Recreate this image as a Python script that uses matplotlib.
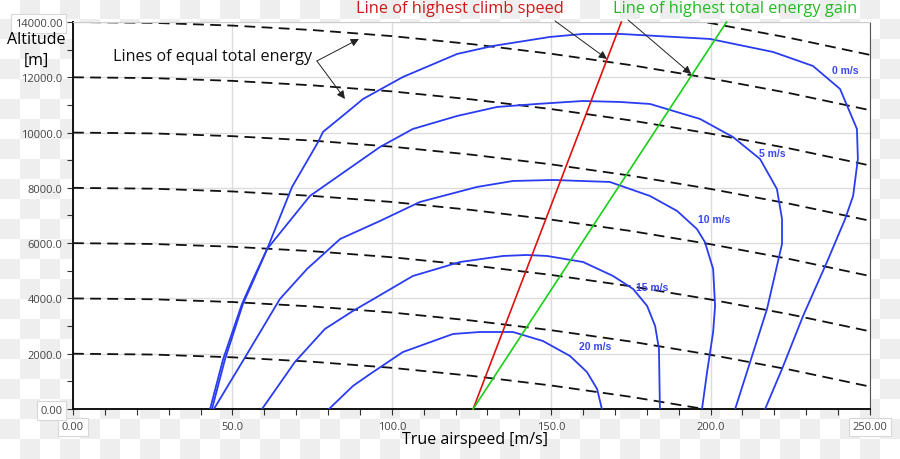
import numpy as np
import matplotlib
matplotlib.use("Agg")
import matplotlib.pyplot as plt
from matplotlib.ticker import FixedLocator, FixedFormatter, MultipleLocator

plt.rcParams['font.family'] = ['Open Sans', 'DejaVu Sans']

# rate-of-climb contours (speed m/s, altitude m)
c0_v = [43.0, 47.1, 53.0, 56.5, 60.9, 68.7, 76.9, 78.4, 85.3, 91.0, 103.5, 120.5, 131.7, 149.6, 160.0,
        171.6, 199.8, 219.6, 232.1, 240.6, 245.9, 246.2, 244.7, 242.2, 236.5, 229.0, 222.4, 217.1]
c0_h = [0, 1809, 3799, 4703, 5789, 8032, 9660, 10022, 10673, 11216, 12012, 12844, 13133, 13459, 13568,
        13568, 13387, 12916, 12410, 11578, 10130, 9045, 7706, 6874, 5318, 3365, 1447, 0]

c5_v = [43.6, 47.7, 53.3, 56.8, 60.9, 74.3, 96.3, 106.6, 120.5, 133.0, 145.5, 160.0, 171.6, 181.0,
        196.7, 207.0, 215.5, 220.8, 222.4, 222.4, 217.7, 212.4, 207.7]
c5_h = [0, 1809, 3799, 4703, 5789, 7706, 9479, 10130, 10601, 10926, 11035, 11143, 11107, 11035,
        10492, 9841, 9045, 7960, 6874, 5970, 3618, 1700, 0]

c10_v = [44.2, 54.6, 64.9, 73.4, 83.8, 96.3, 108.8, 126.7, 138.0, 150.6, 168.4, 181.0, 189.5, 195.7,
         198.2, 200.8, 201.4, 200.8, 198.9, 197.3]
c10_h = [0, 1990, 3980, 5065, 6151, 6802, 7489, 8032, 8249, 8285, 8213, 7706, 7164, 6512,
         6042, 5065, 3727, 2786, 1339, 0]

c15_v = [59.3, 69.6, 79.0, 87.8, 93.2, 106.6, 121.4, 134.9, 142.4, 148.7, 160.0, 169.4, 175.7, 180.1,
         182.6, 183.8, 184.1]
c15_h = [0, 1700, 2894, 3546, 3907, 4812, 5318, 5536, 5572, 5536, 5318, 4812, 4342, 3727,
         3003, 2171, 0]

c20_v = [80.3, 87.8, 93.2, 103.5, 119.2, 127.7, 138.0, 147.4, 155.9, 161.2, 164.4, 165.9]
c20_h = [0, 832, 1266, 2062, 2714, 2786, 2786, 2460, 1918, 1339, 724, 0]

contours = [(c0_v, c0_h), (c5_v, c5_h), (c10_v, c10_h), (c15_v, c15_h), (c20_v, c20_h)]
contour_names = ['0 m/s', '5 m/s', '10 m/s', '15 m/s', '20 m/s']
label_v = [242.2, 219.3, 201.1, 181.6, 163.7]
label_h = [12265, 9262, 6874, 4414, 2279]

# lines of equal total energy: altitude at zero speed and the drop along speed
energy_base = [2000, 4000, 6000, 8000, 10000, 12000, 14000, 16000]
energy_v = [0, 25, 50, 75, 100, 125, 150, 175, 200, 225, 250]
energy_drop = [0, 30, 130, 290, 510, 800, 1150, 1560, 2040, 2580, 3190]

# straight lines
climb_v = [125.5, 172.0]
climb_h = [0, 14000]
gain_v = [125.5, 205.0]
gain_h = [0, 14000]

xticks = [0, 50, 100, 150, 200, 250]
xlabels = ['0.00', '50.0', '100.0', '150.0', '200.0', '250.00']
yticks = [0, 2000, 4000, 6000, 8000, 10000, 12000, 14000]
ylabels = ['0.00', '2000.0', '4000.0', '6000.0', '8000.0', '10000.0', '12000.0', '14000.00']

fig = plt.figure(figsize=(9, 4.6), dpi=100)

# transparent-look checkerboard background
yy, xx = np.mgrid[0:460, 0:900]
chk = np.where(((xx // 20) + (yy // 20)) % 2 == 1, 0.935, 1.0)
fig.figimage(np.dstack([chk, chk, chk]), 0, 0, origin='upper', zorder=-1)
fig.patch.set_alpha(0)

ax = fig.add_axes([73 / 900, 50 / 460, 797 / 900, 387 / 460])
ax.set_facecolor('white')
ax.set_xlim(0, 250)
ax.set_ylim(0, 14000)

ax.grid(True, color='#dcdcdc', lw=1, zorder=0)
ax.set_axisbelow(True)

for base in energy_base:
    ax.plot(energy_v, [base - d for d in energy_drop], color='#111111', lw=1.3,
            dashes=(6, 3.5), zorder=2)

blue = '#2a3cf2'
for v, h in contours:
    ax.plot(v, h, color=blue, lw=1.3, zorder=3)
for name, lv, lh in zip(contour_names, label_v, label_h):
    ax.text(lv, lh, name, color='#3a46f0', fontsize=7.5, fontweight='bold',
            family='Liberation Sans', ha='center', va='center', zorder=4)

ax.plot(climb_v, climb_h, color='#e01010', lw=1.2, zorder=4, clip_on=False)
ax.plot(gain_v, gain_h, color='#19d019', lw=1.2, zorder=4, clip_on=False)

arrow = dict(arrowstyle='-|>', color='#222222', lw=0.7, mutation_scale=12, shrinkA=0, shrinkB=0)
ax.annotate('', xy=(167.5, 12663), xytext=(151.2, 14038), arrowprops=arrow, annotation_clip=False)
ax.annotate('', xy=(193.9, 12120), xytext=(174.1, 14074), arrowprops=arrow, annotation_clip=False)
ax.annotate('', xy=(89.7, 13387), xytext=(76.5, 12590), arrowprops=arrow)
ax.annotate('', xy=(85.3, 11216), xytext=(76.5, 12590), arrowprops=arrow)

ax.text(121.4, 14500, 'Line of highest climb speed', color='#d01818', fontsize=11.8,
        ha='center', va='center', clip_on=False)
ax.text(207.7, 14500, 'Line of highest total energy gain', color='#22bb22', fontsize=11.8,
        ha='center', va='center', clip_on=False)
ax.text(43.9, 12771, 'Lines of equal total energy', color='#111111', fontsize=11.6,
        ha='center', va='center')

ax.xaxis.set_major_locator(FixedLocator(xticks))
ax.xaxis.set_major_formatter(FixedFormatter(xlabels))
ax.yaxis.set_major_locator(FixedLocator(yticks))
ax.yaxis.set_major_formatter(FixedFormatter(ylabels))
ax.xaxis.set_minor_locator(MultipleLocator(10))
ax.yaxis.set_minor_locator(MultipleLocator(1000))
ax.tick_params(which='both', direction='out', length=4, width=0.8, color='#333333',
               labelsize=8, labelcolor='#444444')
ax.tick_params(axis='x', pad=5)

for side in ['left', 'bottom']:
    ax.spines[side].set_color('#111111')
    ax.spines[side].set_linewidth(1.4)
ax.spines['right'].set_color('#555555')
ax.spines['top'].set_color('#cccccc')

box = dict(boxstyle='square,pad=0.35', fc='white', ec='#d8d8d8', lw=0.8)
for lab in [ax.get_xticklabels()[0], ax.get_xticklabels()[-1],
            ax.get_yticklabels()[0], ax.get_yticklabels()[-1]]:
    lab.set_bbox(box)

fig.text(36 / 900, 1 - 40 / 460, 'Altitude', fontsize=11.5, ha='center', va='center')
fig.text(36 / 900, 1 - 61 / 460, '[m]', fontsize=11.5, ha='center', va='center')
fig.text(475 / 900, 1 - 440 / 460, 'True airspeed [m/s]', fontsize=11.5, ha='center', va='center')

fig.savefig('out.png', dpi=100)
